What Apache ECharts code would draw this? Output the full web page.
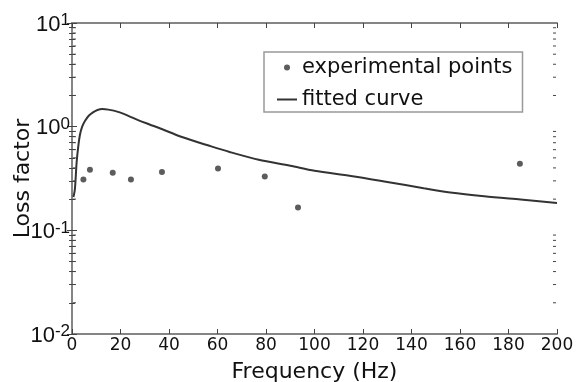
<!DOCTYPE html>
<html>
<head>
<meta charset="utf-8">
<script src="https://cdn.jsdelivr.net/npm/echarts@6/dist/echarts.min.js"></script>
<style>html,body{margin:0;padding:0;background:#fff;}#c{width:582px;height:382px;}</style>
</head>
<body>
<div id="c"></div>
<script>
// Experimental points: frequency (Hz), loss factor
const expFreq = [4.7, 7.4, 16.8, 24.3, 37.1, 60.2, 79.5, 93.2, 184.7];
const expLoss = [0.31, 0.385, 0.36, 0.31, 0.365, 0.395, 0.33, 0.166, 0.44];
// Fitted curve
const fitFreq = [0.6, 1.2, 1.9, 2.6, 3.3, 4.2, 5.4, 7, 8.8, 10.5, 12.5, 15, 19, 23, 27.5, 32, 37, 45, 57, 65, 77, 90, 100, 115, 130, 145, 156, 170, 185, 200];
const fitLoss = [0.21, 0.25, 0.45, 0.65, 0.84, 1.0, 1.14, 1.28, 1.38, 1.45, 1.48, 1.46, 1.39, 1.28, 1.15, 1.05, 0.95, 0.8, 0.65, 0.57, 0.48, 0.42, 0.375, 0.335, 0.293, 0.255, 0.232, 0.213, 0.198, 0.184];
const xTicks = [0, 20, 40, 60, 80, 100, 120, 140, 160, 180, 200];
const yDecades = [0.01, 0.1, 1, 10];
const yMinor = [0.02,0.03,0.04,0.05,0.06,0.07,0.08,0.09,0.2,0.3,0.4,0.5,0.6,0.7,0.8,0.9,2,3,4,5,6,7,8,9];
const seriesNames = ['experimental points', 'fitted curve'];

const axisColor = '#858585';
const font = '"DejaVu Sans", sans-serif';
const numFont = '"Liberation Sans", Arial, sans-serif';
const chart = echarts.init(document.getElementById('c'));
const tickStyle = {show: true, inside: true, length: 5, lineStyle: {color: '#444', width: 1}};
const minorStyle = {show: true, splitNumber: 9, length: 3, lineStyle: {color: '#444', width: 1}};
chart.setOption({
  animation: false,
  backgroundColor: '#fff',
  grid: {left: 72, right: 25, top: 23, bottom: 48, containLabel: false, outerBoundsMode: 'none'},
  legend: {
    left: 264, top: 52, orient: 'vertical',
    backgroundColor: '#fff', borderColor: '#999', borderWidth: 1.5,
    padding: [5, 10, 2, 13], itemGap: 11,
    itemWidth: 20, itemHeight: 6,
    textStyle: {fontSize: 21, color: '#111', fontFamily: font},
    data: [
      {name: seriesNames[0], icon: 'circle'},
      {name: seriesNames[1], icon: 'path://M0,0 M20,6 M0,2h20v2h-20z'}
    ]
  },
  xAxis: [{
    type: 'value', min: 0, max: 200, interval: 20,
    name: 'Frequency (Hz)', nameLocation: 'middle', nameGap: 27, nameMoveOverlap: false,
    nameTextStyle: {fontSize: 22, color: '#111', fontFamily: font},
    axisLine: {show: true, lineStyle: {color: axisColor, width: 2}},
    axisTick: tickStyle,
    axisLabel: {fontSize: 17, color: '#111', margin: 3, fontFamily: font},
    splitLine: {show: false}
  }, {
    type: 'value', min: 0, max: 200, interval: 20, position: 'top',
    axisLine: {show: true, lineStyle: {color: axisColor, width: 2}},
    axisTick: tickStyle, axisLabel: {show: false}, splitLine: {show: false}
  }],
  yAxis: [{
    type: 'log', logBase: 10, min: 0.01, max: 10,
    name: 'Loss factor', nameLocation: 'middle', nameGap: 38, nameMoveOverlap: false,
    nameTextStyle: {fontSize: 22, color: '#111', fontFamily: font},
    axisLine: {show: true, lineStyle: {color: axisColor, width: 2}},
    axisTick: tickStyle,
    minorTick: minorStyle,
    axisLabel: {
      margin: 2, fontFamily: numFont,
      formatter: function (v) {
        const e = Math.round(Math.log10(v));
        return '{b|10}{s|' + e + '}';
      },
      rich: {
        b: {fontSize: 22, color: '#111', fontFamily: numFont, lineHeight: 22, padding: [10, 0, 7, 0]},
        s: {fontSize: 17, color: '#111', fontFamily: numFont, lineHeight: 17, verticalAlign: 'top'}
      }
    },
    splitLine: {show: false}
  }, {
    type: 'log', logBase: 10, min: 0.01, max: 10, position: 'right',
    axisLine: {show: true, lineStyle: {color: axisColor, width: 2}},
    axisTick: tickStyle, minorTick: minorStyle,
    axisLabel: {show: false}, splitLine: {show: false}
  }],
  series: [{
    name: seriesNames[1], type: 'line', smooth: 0.3, showSymbol: false, symbol: 'none',
    lineStyle: {color: '#333', width: 2}, itemStyle: {color: '#333'},
    data: fitFreq.map((f, i) => [f, fitLoss[i]]), z: 3
  }, {
    name: seriesNames[0], type: 'scatter', symbol: 'circle', symbolSize: 6,
    itemStyle: {color: '#333'},
    data: expFreq.map((f, i) => [f, expLoss[i]]), z: 4
  }, {
    name: 'minor', type: 'custom', silent: true, z: 10, clip: false,
    data: yMinor.map(v => [100, v]),
    renderItem: function (params, api) {
      const v = api.value(1);
      const pl = api.coord([0, v]);
      const pr = api.coord([200, v]);
      return {type: 'group', children: [
        {type: 'line', shape: {x1: pl[0] + 1, y1: pl[1], x2: pl[0] + 4, y2: pl[1]}, style: {stroke: '#444', lineWidth: 1}},
        {type: 'line', shape: {x1: pr[0] - 1, y1: pr[1], x2: pr[0] - 4, y2: pr[1]}, style: {stroke: '#444', lineWidth: 1}}
      ]};
    }
  }]
});
</script>
</body>
</html>
